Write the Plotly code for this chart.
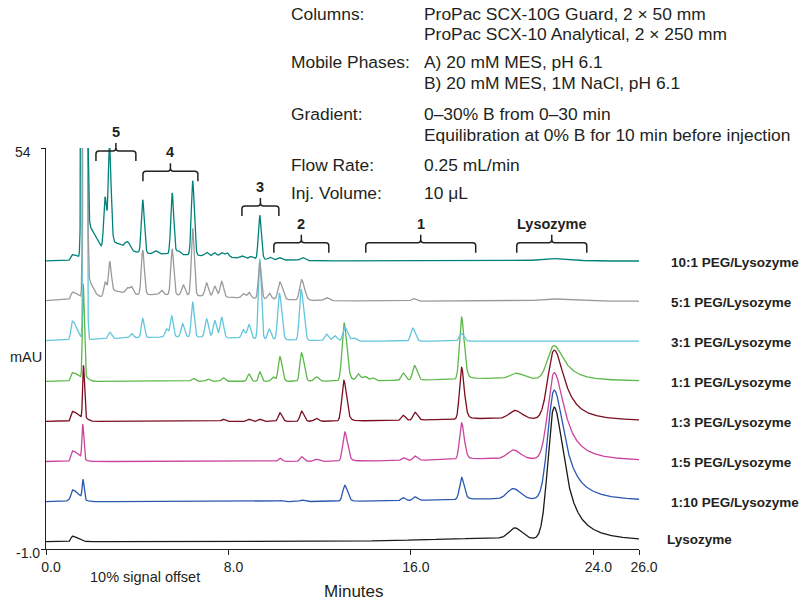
import numpy as np
import plotly.graph_objects as go

# ---------------- data ----------------
X_RANGE = [0, 26]
Y_RANGE = [-1, 54]
X_TICKS = [0, 8, 16, 24, 26]
X_TICK_TEXT = ["0.0", "8.0", "16.0", "24.0", "26.0"]

NAMES = ["10:1 PEG/Lysozyme", "5:1 PEG/Lysozyme", "3:1 PEG/Lysozyme",
         "1:1 PEG/Lysozyme", "1:3 PEG/Lysozyme", "1:5 PEG/Lysozyme",
         "1:10 PEG/Lysozyme", "Lysozyme"]
OFFSETS = [38.5, 33.0, 27.5, 22.0, 16.5, 11.0, 5.5, 0.0]   # 10% signal offset
COLORS = ["#00827a", "#9a9a9a", "#62c6dc", "#5cb848",
          "#7b0d1e", "#c9449e", "#2a58b0", "#1a1a1a"]

# peak tables: (retention time min, height mAU, left width, right width[, tailing])
PEAKS_10_1 = [
    (1.15, 0.8, 0.06, 0.25), (1.67, 300, 0.06, 0.07), (1.75, 4.8, 0.05, 0.45),
    (4.5, 1.0, 1.5, 3.0), (2.59, 7.3, 0.06, 0.07), (2.78, 13.2, 0.05, 0.07),
    (2.8, 2.0, 0.1, 0.6), (3.5, 0.6, 0.07, 0.08), (3.62, 0.7, 0.07, 0.08),
    (4.24, 7.3, 0.06, 0.07), (4.8, 0.4, 0.08, 0.08), (5.53, 8.4, 0.06, 0.07),
    (5.8, 0.5, 0.08, 0.08), (6.43, 10.2, 0.06, 0.07), (7.04, 0.5, 0.08, 0.08),
    (7.4, 0.5, 0.08, 0.08), (7.7, 0.6, 0.08, 0.08), (7.94, 0.6, 0.08, 0.08),
    (8.6, 0.3, 0.08, 0.08), (9.0, 0.3, 0.08, 0.08), (9.37, 6.0, 0.06, 0.07),
    (9.82, 0.3, 0.08, 0.08), (10.25, 0.3, 0.08, 0.08), (11.25, 0.4, 0.1, 0.1),
    (22.1, 0.35, 0.5, 0.8),
]
PEAKS_5_1 = [
    (1.15, 1.0, 0.06, 0.25), (1.7, 300, 0.045, 0.055), (1.75, 3.0, 0.05, 0.25),
    (4.5, 0.9, 2.0, 3.5), (2.59, 2.0, 0.06, 0.07), (2.79, 4.0, 0.05, 0.07),
    (2.8, 0.8, 0.1, 0.5), (3.56, 0.8, 0.07, 0.08), (3.75, 1.0, 0.07, 0.08),
    (4.24, 6.1, 0.06, 0.07), (5.07, 0.6, 0.08, 0.08), (5.53, 6.3, 0.06, 0.07),
    (6.02, 1.4, 0.07, 0.08), (6.43, 9.2, 0.06, 0.07), (7.04, 1.8, 0.07, 0.08),
    (7.4, 1.4, 0.07, 0.08), (7.7, 2.1, 0.07, 0.08), (8.65, 0.6, 0.07, 0.08),
    (8.9, 0.8, 0.07, 0.08), (9.37, 5.0, 0.06, 0.07), (9.79, 0.8, 0.07, 0.08),
    (10.25, 2.4, 0.08, 0.12), (11.2, 2.8, 0.08, 0.13), (12.3, 0.4, 0.1, 0.1),
    (16.1, 0.35, 0.08, 0.1), (22.1, 0.3, 0.5, 0.8),
]
PEAKS_3_1 = [
    (1.15, 2.6, 0.06, 0.2), (1.7, 300, 0.04, 0.05), (6.0, 0.6, 3.0, 3.0),
    (2.8, 0.9, 0.07, 0.08), (3.75, 0.6, 0.07, 0.08), (4.24, 2.6, 0.06, 0.07),
    (5.29, 1.1, 0.07, 0.08), (5.51, 2.9, 0.06, 0.07), (5.99, 1.8, 0.07, 0.08),
    (6.43, 4.8, 0.06, 0.07), (7.04, 2.5, 0.07, 0.08), (7.4, 2.3, 0.07, 0.08),
    (7.7, 2.8, 0.07, 0.08), (8.65, 1.2, 0.07, 0.08), (8.9, 1.9, 0.07, 0.08),
    (9.37, 11.0, 0.06, 0.07), (9.79, 1.4, 0.07, 0.08), (10.23, 6.4, 0.07, 0.1),
    (11.18, 7.0, 0.07, 0.11), (12.3, 0.9, 0.08, 0.1), (12.66, 0.7, 0.08, 0.1),
    (13.1, 1.9, 0.08, 0.12), (13.5, 0.4, 0.1, 0.1), (16.07, 1.8, 0.08, 0.12),
    (18.2, 1.1, 0.08, 0.12),
]
PEAKS_1_1 = [
    (1.15, 1.2, 0.06, 0.3), (1.63, 12.9, 0.035, 0.045), (1.7, 0.5, 0.05, 0.15),
    (6.46, 0.4, 0.08, 0.08), (7.1, 0.3, 0.08, 0.08), (7.77, 0.5, 0.08, 0.08),
    (8.9, 1.0, 0.07, 0.08), (9.38, 1.3, 0.06, 0.07), (9.96, 0.6, 0.08, 0.08),
    (10.25, 3.4, 0.07, 0.1), (11.2, 3.9, 0.07, 0.11), (11.86, 0.6, 0.1, 0.1),
    (13.07, 8.0, 0.09, 0.12, 0.3), (13.69, 0.9, 0.08, 0.1), (13.98, 0.6, 0.08, 0.1),
    (14.3, 0.4, 0.08, 0.1), (15.66, 1.0, 0.08, 0.1), (16.15, 2.0, 0.08, 0.12),
    (18.22, 8.5, 0.09, 0.12, 0.3), (20.8, 0.4, 3.5, 1.2), (20.62, 0.7, 0.25, 0.3),
    (22.27, 4.7, 0.27, 0.55, 1.0),
]
PEAKS_1_3 = [
    (1.15, 1.37, 0.06, 0.3), (1.64, 7.2, 0.035, 0.045), (1.7, 0.3, 0.05, 0.15),
    (7.77, 0.3, 0.08, 0.08), (8.9, 0.3, 0.08, 0.08), (9.38, 0.3, 0.08, 0.08),
    (10.25, 1.2, 0.07, 0.1), (11.2, 1.4, 0.07, 0.11), (11.86, 0.4, 0.1, 0.1),
    (13.06, 5.6, 0.09, 0.12, 0.3), (15.66, 0.7, 0.08, 0.1), (16.17, 1.1, 0.08, 0.12),
    (18.22, 7.1, 0.09, 0.12, 0.3), (20.8, 0.4, 3.5, 1.2), (20.55, 1.1, 0.25, 0.3),
    (22.28, 9.6, 0.27, 0.55, 1.0),
]
PEAKS_1_5 = [
    (1.15, 1.45, 0.06, 0.3), (1.61, 4.7, 0.035, 0.045),
    (10.25, 0.45, 0.07, 0.1), (11.2, 0.65, 0.07, 0.11), (11.86, 0.3, 0.1, 0.1),
    (13.1, 4.0, 0.09, 0.12, 0.3), (15.66, 0.4, 0.08, 0.1), (16.17, 0.6, 0.08, 0.12),
    (18.22, 5.0, 0.09, 0.12, 0.3), (20.8, 0.4, 3.5, 1.2), (20.48, 1.2, 0.25, 0.3),
    (22.28, 12.0, 0.27, 0.55, 1.0),
]
PEAKS_1_10 = [
    (0.98, 0.3, 0.04, 0.05), (1.15, 1.6, 0.06, 0.3), (1.62, 2.6, 0.035, 0.045),
    (10.25, 0.15, 0.07, 0.1), (11.2, 0.2, 0.07, 0.11),
    (13.1, 2.2, 0.09, 0.12, 0.3), (15.66, 0.4, 0.08, 0.1), (16.17, 0.5, 0.08, 0.12),
    (18.22, 3.0, 0.09, 0.12, 0.3), (20.8, 0.4, 3.5, 1.2), (20.48, 1.4, 0.25, 0.3),
    (22.28, 15.1, 0.27, 0.55, 1.0),
]
PEAKS_LYSO = [
    (1.15, 0.77, 0.06, 0.25), (20.5, 0.5, 3.5, 1.2), (20.55, 1.4, 0.25, 0.3),
    (22.28, 18.3, 0.27, 0.55, 1.0),
]
PEAK_TABLES = [PEAKS_10_1, PEAKS_5_1, PEAKS_3_1, PEAKS_1_1,
               PEAKS_1_3, PEAKS_1_5, PEAKS_1_10, PEAKS_LYSO]

# peak-group brackets: (label, start min, end min, bracket top mAU)
BRACKETS = [("5", 2.19, 3.94, 53.6), ("4", 4.25, 6.66, 50.8),
            ("3", 8.59, 10.21, 46.05), ("2", 9.99, 12.4, 41.0),
            ("1", 14.02, 18.84, 41.0), ("Lysozyme", 20.64, 23.71, 41.0)]

CONDITIONS = [
    ("Columns:", "ProPac SCX-10G Guard, 2 × 50 mm"),
    ("", "ProPac SCX-10 Analytical, 2 × 250 mm"),
    ("Mobile Phases:", "A) 20 mM MES, pH 6.1"),
    ("", "B) 20 mM MES, 1M NaCl, pH 6.1"),
    ("Gradient:", "0–30% B from 0–30 min"),
    ("", "Equilibration at 0% B for 10 min before injection"),
    ("Flow Rate:", "0.25 mL/min"),
    ("Inj. Volume:", "10 μL"),
]

# ---------------- build ----------------
T = np.linspace(X_RANGE[0], X_RANGE[1], 5201)


def peak(t, t0, h, wl, wr, tail=0.0):
    dt = t - t0
    left = h * np.exp(-0.5 * (dt / wl) ** 2)
    right = h * ((1 - tail) * np.exp(-0.5 * (dt / wr) ** 2) + tail / (1 + (dt / wr) ** 2))
    return np.where(dt < 0, left, right)


def signal(peaks, offset):
    y = np.full_like(T, offset)
    for p in peaks:
        y = y + peak(T, *p)
    return y


FONT = "Liberation Sans, Arial, Helvetica, sans-serif"
TXT = "#231f20"

W, H = 801, 605
ML, MR, MT, MB = 46, 162, 148, 56
PW, PH = W - ML - MR, H - MT - MB

fig = go.Figure()
for name, off, col, pk in reversed(list(zip(NAMES, OFFSETS, COLORS, PEAK_TABLES))):
    fig.add_trace(go.Scatter(x=T, y=signal(pk, off), mode="lines", name=name,
                             line=dict(color=col, width=1.3), hoverinfo="skip"))


def xp(x):
    return (x - X_RANGE[0]) / (X_RANGE[1] - X_RANGE[0])


def yp(y):
    return (y - Y_RANGE[0]) / (Y_RANGE[1] - Y_RANGE[0])


def pxx(px):
    return (px - ML) / PW


def pxy(py):
    return (H - MB - py) / PH


shapes = []
annotations = []
DROP, TICK, RX, RY = 10 / PH, 8 / PH, 3 / PW, 3 / PH
for lab, a, b, top in BRACKETS:
    x0, x1, yt = xp(a), xp(b), yp(top)
    xc = (x0 + x1) / 2
    yb, yk = yt - DROP, yt + TICK
    path = (f"M{x0},{yb} L{x0},{yt - RY} Q{x0},{yt} {x0 + RX},{yt} "
            f"L{xc - RX},{yt} Q{xc},{yt} {xc},{yt + RY} L{xc},{yk} "
            f"M{xc},{yt + RY} Q{xc},{yt} {xc + RX},{yt} "
            f"L{x1 - RX},{yt} Q{x1},{yt} {x1},{yt - RY} L{x1},{yb}")
    shapes.append(dict(type="path", xref="paper", yref="paper", path=path,
                       line=dict(color="#222", width=1.5)))
    annotations.append(dict(x=(a + b) / 2, xref="x", y=yt, yref="paper",
                            yshift=TICK * PH + 11, text=f"<b>{lab}</b>",
                            showarrow=False, xanchor="center", yanchor="middle",
                            font=dict(family=FONT, size=14.5, color=TXT)))

# trace labels on the right
for i, (name, off) in enumerate(zip(NAMES, OFFSETS)):
    annotations.append(dict(x=pxx(669 if i < len(NAMES) - 1 else 665), xref="paper",
                            y=off, yref="y", yshift=-1 if i < len(NAMES) - 1 else 2,
                            text=f"<b>{name}</b>", showarrow=False,
                            xanchor="left", yanchor="middle",
                            font=dict(family=FONT, size=13.5, color=TXT)))

# conditions block
ROW_Y = [14, 34, 62, 83, 114, 135, 165, 193]
for (k, v), ry in zip(CONDITIONS, ROW_Y):
    if k:
        annotations.append(dict(x=pxx(289), xref="paper", y=pxy(ry), yref="paper",
                                text=k, showarrow=False, xanchor="left", yanchor="middle",
                                font=dict(family=FONT, size=17.4, color=TXT)))
    annotations.append(dict(x=pxx(422), xref="paper", y=pxy(ry), yref="paper",
                            text=v, showarrow=False, xanchor="left", yanchor="middle",
                            font=dict(family=FONT, size=17.4, color=TXT)))

# axis texts
annotations += [
    dict(x=pxx(23), xref="paper", y=Y_RANGE[1], yref="y", yshift=-4, text="54",
         showarrow=False, xanchor="center", yanchor="middle",
         font=dict(family=FONT, size=14, color=TXT)),
    dict(x=pxx(28), xref="paper", y=Y_RANGE[0], yref="y", yshift=-4, text="-1.0",
         showarrow=False, xanchor="center", yanchor="middle",
         font=dict(family=FONT, size=14, color=TXT)),
    dict(x=pxx(26), xref="paper", y=pxy(357), yref="paper", text="mAU",
         showarrow=False, xanchor="center", yanchor="middle",
         font=dict(family=FONT, size=14.5, color=TXT)),
    dict(x=pxx(145), xref="paper", y=pxy(577), yref="paper", text="10% signal offset",
         showarrow=False, xanchor="center", yanchor="middle",
         font=dict(family=FONT, size=14.5, color=TXT)),
    dict(x=pxx(354), xref="paper", y=pxy(591), yref="paper", text="Minutes",
         showarrow=False, xanchor="center", yanchor="middle",
         font=dict(family=FONT, size=17, color=TXT)),
]

fig.update_layout(
    width=W, height=H, margin=dict(l=ML, r=MR, t=MT, b=MB),
    paper_bgcolor="white", plot_bgcolor="white", showlegend=False,
    shapes=shapes, annotations=annotations,
    xaxis=dict(range=X_RANGE, showline=True, linecolor="#222", linewidth=1.3,
               ticks="outside", ticklen=5, tickwidth=1.3, tickcolor="#222",
               tickvals=X_TICKS, ticktext=X_TICK_TEXT, ticklabelshift=5,
               tickfont=dict(family=FONT, size=14, color=TXT),
               showgrid=False, zeroline=False),
    yaxis=dict(range=Y_RANGE, showline=True, linecolor="#222", linewidth=1.3,
               ticks="outside", ticklen=4, tickwidth=1.3, tickcolor="#222",
               tickvals=[Y_RANGE[0], Y_RANGE[1]], showticklabels=False,
               showgrid=False, zeroline=False),
)

fig.write_html("out.html")
